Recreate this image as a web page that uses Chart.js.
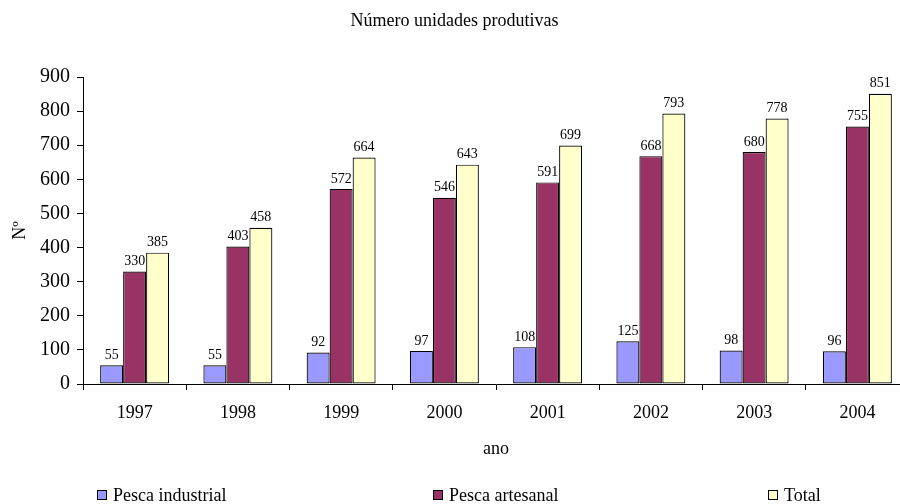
<!DOCTYPE html>
<html>
<head>
<meta charset="utf-8">
<script src="https://cdn.jsdelivr.net/npm/chart.js@4/dist/chart.umd.min.js"></script>
<style>
  html, body { margin: 0; padding: 0; background: #fff; overflow: hidden; }
  #wrap { position: relative; width: 912px; height: 504px; }
  .legend-item { position: absolute; top: 485px; font: 18px "Liberation Serif", serif; color: #000; white-space: nowrap; line-height: 20px; }
  .legend-item span { display: inline-block; width: 8px; height: 8px; border: 1px solid #000; margin-right: 6px; vertical-align: 1px; }
</style>
</head>
<body>
<div id="wrap">
  <canvas id="chart" width="912" height="504"></canvas>
</div>
<script>
const years = ['1997', '1998', '1999', '2000', '2001', '2002', '2003', '2004'];
const pescaIndustrial = [55, 55, 92, 97, 108, 125, 98, 96];
const pescaArtesanal = [330, 403, 572, 546, 591, 668, 680, 755];
const total = [385, 458, 664, 643, 699, 793, 778, 851];
const seriesNames = ['Pesca industrial', 'Pesca artesanal', 'Total'];
const seriesColors = ['#9999FF', '#993366', '#FFFFCC'];
const legendLeft = [97, 433, 768];

const serif = '"Liberation Serif", "Times New Roman", serif';

// value labels above every bar
const barLabels = {
  id: 'barLabels',
  afterDatasetsDraw(chart) {
    const ctx = chart.ctx;
    ctx.save();
    ctx.font = '14px ' + serif;
    ctx.fillStyle = '#000';
    ctx.textAlign = 'center';
    ctx.textBaseline = 'bottom';
    chart.data.datasets.forEach((ds, i) => {
      chart.getDatasetMeta(i).data.forEach((bar, j) => {
        ctx.fillText(String(ds.data[j]), bar.x, bar.y - 3);
      });
    });
    ctx.restore();
  }
};

const datasets = [pescaIndustrial, pescaArtesanal, total].map((values, i) => ({
  label: seriesNames[i],
  data: values,
  backgroundColor: seriesColors[i],
  borderColor: '#000',
  borderWidth: 1.2,
  borderSkipped: false,
  categoryPercentage: 0.668,
  barPercentage: 1,
}));

new Chart(document.getElementById('chart'), {
  type: 'bar',
  data: { labels: years, datasets: datasets },
  plugins: [barLabels],
  options: {
    responsive: false,
    animation: false,
    layout: { padding: { left: 0, right: 3, top: 0, bottom: 40 } },
    plugins: {
      legend: { display: false },
      tooltip: { enabled: false },
      title: {
        display: true,
        text: 'Número unidades produtivas',
        color: '#000',
        font: { family: serif, size: 18, weight: 'normal' },
        padding: { top: 10, bottom: 45.4 },
      },
    },
    scales: {
      x: {
        afterFit(scale) { scale.height = 80; },
        grid: { drawOnChartArea: false, tickLength: 6, color: '#000' },
        border: { color: '#000' },
        ticks: { color: '#000', font: { family: serif, size: 18 }, padding: 12 },
        title: {
          display: true, text: 'ano', color: '#000',
          font: { family: serif, size: 18 }, padding: { top: 4, bottom: 4 },
        },
      },
      y: {
        min: 0,
        max: 900,
        afterFit(scale) { scale.width = 83; },
        grid: { drawOnChartArea: false, tickLength: 6, color: '#000' },
        border: { color: '#000' },
        ticks: { stepSize: 100, color: '#000', font: { family: serif, size: 20 }, padding: 7 },
        title: {
          display: true, text: 'Nº', color: '#000',
          font: { family: serif, size: 18 }, padding: { top: 9, bottom: 4 },
        },
      },
    },
  },
});

// legend spread along the bottom like the original
const wrap = document.getElementById('wrap');
seriesNames.forEach((name, i) => {
  const item = document.createElement('div');
  item.className = 'legend-item';
  item.style.left = legendLeft[i] + 'px';
  const box = document.createElement('span');
  box.style.background = seriesColors[i];
  item.appendChild(box);
  item.appendChild(document.createTextNode(name));
  wrap.appendChild(item);
});
</script>
</body>
</html>
